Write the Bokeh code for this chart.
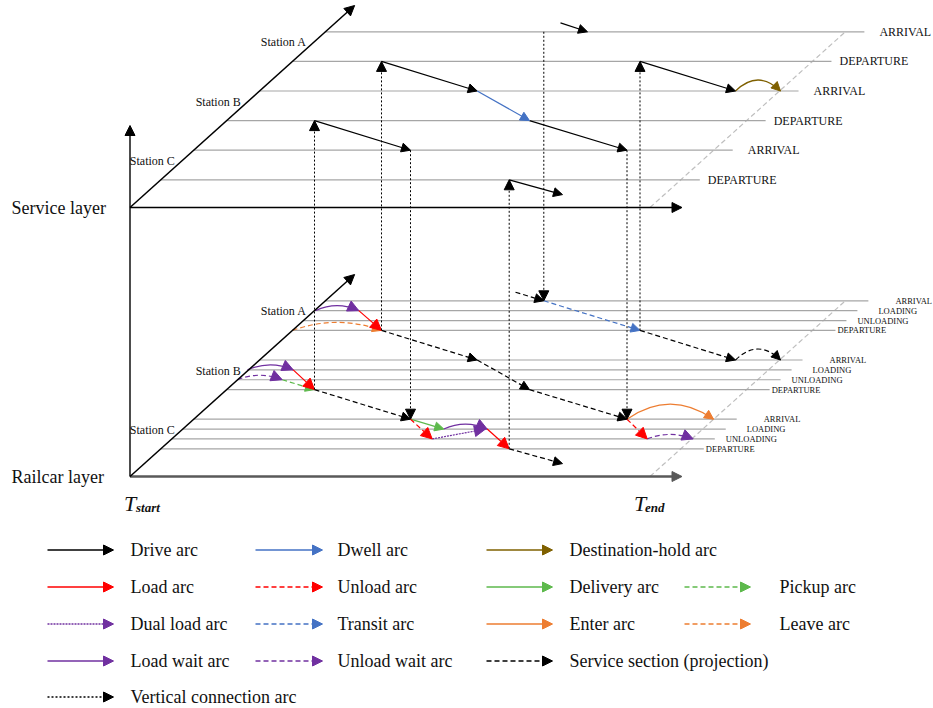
import numpy as np
from bokeh.plotting import figure
from bokeh.models import Range1d, Arrow, NormalHead, ColumnDataSource
from bokeh.embed import file_html
from bokeh.resources import INLINE
from bokeh.core.properties import value

# ----------------------------- data -----------------------------
STATIONS = ["Station A", "Station B", "Station C"]
STATION_INDEX = [2, 1, 0]                      # depth order (C nearest)
SERVICE_EVENTS = ["ARRIVAL", "DEPARTURE"]
SERVICE_EVENT_LEVEL = [1.0, 0.0]
RAILCAR_EVENTS = ["ARRIVAL", "LOADING", "UNLOADING", "DEPARTURE"]
RAILCAR_EVENT_LEVEL = [1.0, 2 / 3, 1 / 3, 0.0]
TIME_LABELS = ["start", "end"]

# service layer arcs (time, level) -> (time, level)
DRIVE_T0 = [381.0, 529.0, 314.0, 508.7, 560.0, 639.5]
DRIVE_L0 = [4.0, 2.0, 2.0, 0.0, 5.3, 4.0]
DRIVE_T1 = [476.7, 626.5, 410.0, 562.0, 587.0, 735.0]
DRIVE_L1 = [3.0, 1.0, 1.0, -0.5, 5.0, 3.0]
DWELL_T0, DWELL_L0, DWELL_T1, DWELL_L1 = [476.7], [3.0], [529.0], [2.0]
HOLD_T0, HOLD_T1, HOLD_L = [735.0], [780.0], [3.0]

# railcar layer arcs
LOAD_T0 = [358.3, 292.7, 486.7]
LOAD_L0 = [4 + 2 / 3, 2 + 2 / 3, 2 / 3]
LOAD_T1 = [381.0, 314.0, 508.7]
LOAD_L1 = [4.0, 2.0, 0.0]
UNLOAD_T0, UNLOAD_L0 = [410.0, 626.5], [1.0, 1.0]
UNLOAD_T1, UNLOAD_L1 = [431.7, 646.7], [1 / 3, 1 / 3]
PICKUP_T0, PICKUP_L0, PICKUP_T1, PICKUP_L1 = [281.7], [2 + 1 / 3], [314.0], [2.0]
DELIVERY_T0, DELIVERY_L0, DELIVERY_T1, DELIVERY_L1 = [410.0], [1.0], [443.3], [2 / 3]
DUAL_T0, DUAL_L0, DUAL_T1, DUAL_L1 = [431.7], [1 / 3], [485.0], [2 / 3]
TRANSIT_T0, TRANSIT_L0, TRANSIT_T1, TRANSIT_L1 = [543.3], [5.0], [639.5], [4.0]
SECTION_T0 = [381.0, 476.7, 529.0, 314.0, 508.7, 515.0, 639.5]
SECTION_L0 = [4.0, 3.0, 2.0, 2.0, 0.0, 5.29, 4.0]
SECTION_T1 = [476.7, 529.0, 626.5, 410.0, 562.0, 543.3, 735.0]
SECTION_L1 = [3.0, 2.0, 1.0, 1.0, -0.5, 5.0, 3.0]
SECTION_CURVE_T0, SECTION_CURVE_T1, SECTION_CURVE_L = [735.0], [780.0], [3.0]
LOADWAIT_T0 = [315.0, 247.0, 443.3]
LOADWAIT_T1 = [358.3, 292.7, 486.7]
LOADWAIT_L = [4 + 2 / 3, 2 + 2 / 3, 2 / 3]
UNLOADWAIT_T0, UNLOADWAIT_T1, UNLOADWAIT_L = [237.0, 646.7], [281.7, 692.7], [2 + 1 / 3, 1 / 3]
LEAVE_T0, LEAVE_T1, LEAVE_L = [292.0], [381.0], [4.0]
ENTER_T0, ENTER_T1, ENTER_L = [626.5], [713.0], [1.0]

# vertical connection arcs between the two layers
VERT_T = [314.0, 381.0, 410.0, 508.7, 543.3, 626.5, 639.5]
VERT_L = [2.0, 4.0, 1.0, 0.0, 5.0, 1.0, 4.0]
VERT_UP = [True, True, False, True, False, False, True]

# legend
LEGEND_ROWS = [
    [("Drive arc", "black", "solid"), ("Dwell arc", "blue", "solid"), ("Destination-hold arc", "brown", "solid"), None],
    [("Load arc", "red", "solid"), ("Unload arc", "red", "dashed"), ("Delivery arc", "green", "solid"), ("Pickup arc", "green", "dashed")],
    [("Dual load arc", "purple", "dotted"), ("Transit arc", "blue", "dashed"), ("Enter arc", "orange", "solid"), ("Leave arc", "orange", "dashed")],
    [("Load wait arc", "purple", "solid"), ("Unload wait arc", "purple", "dashed"), ("Service section (projection)", "black", "dashed"), None],
    [("Vertical connection arc", "black", "vdotted"), None, None, None],
]

# ----------------------------- style / geometry -----------------------------
COL = dict(black="#000000", blue="#4472C4", brown="#7F6000", red="#FF0000",
           green="#5DB94C", orange="#ED7D31", purple="#7030A0", grey="#A6A6A6")
DASH = dict(solid="solid", dashed="5 3", dotted="2 1", vdotted="2 2")
FONT = value("Liberation Serif")
T_START, T_END = 129.5, 649.5
SERVICE_BASE, RAILCAR_BASE = 207.0, 476.0
LEV0, LEVSTEP, K = 27.7, 29.6, 1.112

def h_of(lev):
    return LEV0 + LEVSTEP * np.asarray(lev, dtype=float)

def y_of(base, lev):
    return base - h_of(lev)

p = figure(width=933, height=708, x_range=Range1d(0, 933), y_range=Range1d(708, 0),
           output_backend="svg", toolbar_location=None, min_border=0)
p.axis.visible = False
p.grid.visible = False
p.outline_line_color = None
p.background_fill_color = "white"


def arrows(x0, y0, x1, y1, color, dash="solid", width=1.2, size=9, shaft=True):
    src = ColumnDataSource(dict(x0=list(np.atleast_1d(x0)), y0=list(np.atleast_1d(y0)),
                                x1=list(np.atleast_1d(x1)), y1=list(np.atleast_1d(y1))))
    head = NormalHead(size=size, fill_color=color, line_color=color, line_width=1)
    p.add_layout(Arrow(end=head, source=src, x_start="x0", y_start="y0", x_end="x1", y_end="y1",
                       line_color=color, line_width=width, line_dash=dash,
                       line_alpha=1.0 if shaft else 0.0))


def curves(t0, t1, lev, base, bulge, color, dash="solid", width=1.2, size=9):
    t0 = np.asarray(t0, float); t1 = np.asarray(t1, float)
    y = y_of(base, lev)
    cx = (t0 + t1) / 2
    cy = y - 2 * bulge
    p.quadratic(x0=t0, y0=y, x1=t1, y1=y, cx=cx, cy=cy, line_color=color,
                line_width=width, line_dash=dash)
    hx = t1 - (t1 - cx) * 0.08
    hy = y - (y - cy) * 0.08
    arrows(hx, hy, t1, y, color, size=size, shaft=False)


def straight(t0, l0, t1, l1, base, color, dash="solid", width=1.2, size=9):
    arrows(t0, y_of(base, l0), t1, y_of(base, l1), color, dash, width, size)


# --------------------- layer frames ---------------------
for base, axis_col, axis_w in [(SERVICE_BASE, COL["black"], 1.6), (RAILCAR_BASE, "#595959", 2.4)]:
    # time axis
    arrows(T_START, base, T_END + 32, base, axis_col, width=axis_w, size=10)
    # depth diagonal
    arrows(T_START, base, T_START + K * 202, base - 202, COL["black"], width=1.5, size=10)
    # grey dashed T_end diagonal
    p.line([T_END, T_END + K * 176], [base, base - 176], line_color="#BFBFBF", line_width=1.2, line_dash="5 3")

# vertical time axis line
arrows(T_START, RAILCAR_BASE, T_START, 125, COL["black"], width=1.4, size=10)

# service layer horizontal lines + labels
s_x0, s_x1, s_y, s_lab_x, s_lab_y, s_lab = [], [], [], [], [], []
for si in STATION_INDEX:
    for ev, el in zip(SERVICE_EVENTS, SERVICE_EVENT_LEVEL):
        lev = 2 * si + el
        h = h_of(lev)
        yy = SERVICE_BASE - h
        s_x0.append(T_START + K * h); s_x1.append(T_END + K * h + 19); s_y.append(yy)
        s_lab_x.append(T_END + K * h + 19 + (15 if ev == "ARRIVAL" else 8)); s_lab_y.append(yy); s_lab.append(ev)
p.segment(x0=s_x0, y0=s_y, x1=s_x1, y1=s_y, line_color=COL["grey"], line_width=1.2)
p.text(x=s_lab_x, y=s_lab_y, text=s_lab, text_font=FONT, text_font_size="12px",
       text_baseline="middle", text_color="#111111")

# railcar layer horizontal lines + labels
LAB_OFF = {"ARRIVAL": 27, "LOADING": 21, "UNLOADING": 11, "DEPARTURE": 2}
r_x0, r_x1, r_y, r_lab_x, r_lab_y, r_lab = [], [], [], [], [], []
for si in STATION_INDEX:
    for ev, el in zip(RAILCAR_EVENTS, RAILCAR_EVENT_LEVEL):
        lev = 2 * si + el
        h = h_of(lev)
        yy = RAILCAR_BASE - h
        r_x0.append(T_START + K * h); r_x1.append(T_END + K * h + 23); r_y.append(yy)
        r_lab_x.append(T_END + K * h + 23 + LAB_OFF[ev]); r_lab_y.append(yy); r_lab.append(ev)
p.segment(x0=r_x0, y0=r_y, x1=r_x1, y1=r_y, line_color=COL["grey"], line_width=1.2)
p.text(x=r_lab_x, y=r_lab_y, text=r_lab, text_font=FONT, text_font_size="8.5px",
       text_baseline="middle", text_color="#111111")

# station labels
for base in (SERVICE_BASE, RAILCAR_BASE):
    lx, ly, lt = [], [], []
    for name, si in zip(STATIONS, STATION_INDEX):
        h = h_of(2 * si + 0.64)
        lx.append(T_START + K * h - 7); ly.append(base - h); lt.append(name)
    p.text(x=lx, y=ly, text=lt, text_font=FONT, text_font_size="12px", text_align="right",
           text_baseline="middle", text_color="#111111")

# layer names
p.text(x=[11, 11], y=[SERVICE_BASE, RAILCAR_BASE], text=["Service layer", "Railcar layer"],
       text_font=FONT, text_font_size="18px", text_baseline="middle", text_color="#111111")

# T_start / T_end
p.text(x=[T_START - 6, T_END - 16], y=[503, 503], text=["T", "T"], text_font=FONT,
       text_font_size="22px", text_font_style="italic", text_baseline="alphabetic", text_color="#111111")
p.text(x=[T_START + 6, T_END - 5], y=[507, 507], text=TIME_LABELS, text_font=FONT,
       text_font_size="13px", text_font_style="bold italic", text_baseline="alphabetic", text_color="#111111")

# --------------------- service layer arcs ---------------------
straight(DRIVE_T0, DRIVE_L0, DRIVE_T1, DRIVE_L1, SERVICE_BASE, COL["black"])
straight(DWELL_T0, DWELL_L0, DWELL_T1, DWELL_L1, SERVICE_BASE, COL["blue"])
curves(HOLD_T0, HOLD_T1, HOLD_L, SERVICE_BASE, 11, COL["brown"])

# --------------------- railcar layer arcs ---------------------
straight(SECTION_T0, SECTION_L0, SECTION_T1, SECTION_L1, RAILCAR_BASE, COL["black"], DASH["dashed"])
curves(SECTION_CURVE_T0, SECTION_CURVE_T1, SECTION_CURVE_L, RAILCAR_BASE, 11, COL["black"], DASH["dashed"])
straight(TRANSIT_T0, TRANSIT_L0, TRANSIT_T1, TRANSIT_L1, RAILCAR_BASE, COL["blue"], DASH["dashed"])
curves(LEAVE_T0, LEAVE_T1, LEAVE_L, RAILCAR_BASE, 8, COL["orange"], DASH["dashed"])
curves(ENTER_T0, ENTER_T1, ENTER_L, RAILCAR_BASE, 15, COL["orange"])
straight(PICKUP_T0, PICKUP_L0, PICKUP_T1, PICKUP_L1, RAILCAR_BASE, COL["green"], DASH["dashed"])
straight(DELIVERY_T0, DELIVERY_L0, DELIVERY_T1, DELIVERY_L1, RAILCAR_BASE, COL["green"])
straight(DUAL_T0, DUAL_L0, DUAL_T1, DUAL_L1, RAILCAR_BASE, COL["purple"], DASH["dotted"], size=11)
curves(LOADWAIT_T0, LOADWAIT_T1, LOADWAIT_L, RAILCAR_BASE, 5, COL["purple"], size=11)
curves(UNLOADWAIT_T0, UNLOADWAIT_T1, UNLOADWAIT_L, RAILCAR_BASE, 4.5, COL["purple"], DASH["dashed"], size=11)
straight(LOAD_T0, LOAD_L0, LOAD_T1, LOAD_L1, RAILCAR_BASE, COL["red"], size=11)
straight(UNLOAD_T0, UNLOAD_L0, UNLOAD_T1, UNLOAD_L1, RAILCAR_BASE, COL["red"], DASH["dashed"], size=11)

# --------------------- vertical connection arcs ---------------------
vx0, vy0, vy1 = [], [], []
for t, lev, up in zip(VERT_T, VERT_L, VERT_UP):
    ys, yr = float(y_of(SERVICE_BASE, lev)), float(y_of(RAILCAR_BASE, lev))
    vx0.append(t)
    vy0.append(yr if up else ys)
    vy1.append(ys if up else yr)
arrows(vx0, vy0, vx0, vy1, COL["black"], DASH["vdotted"], width=1.0, size=10)

# --------------------- legend ---------------------
ROW_Y = [549.5, 586.5, 623.5, 660.5, 696.5]
COL_X = [(47, 113, 130), (255, 322, 337), (486, 552, 569), (684, 750, 779)]
lt_x, lt_y, lt_t = [], [], []
for ry, row in zip(ROW_Y, LEGEND_ROWS):
    for (ax0, ax1, tx), item in zip(COL_X, row):
        if item is None:
            continue
        label, cname, dname = item
        arrows(ax0, ry, ax1, ry, COL[cname], DASH[dname], width=1.4, size=10)
        lt_x.append(tx); lt_y.append(ry); lt_t.append(label)
p.text(x=lt_x, y=lt_y, text=lt_t, text_font=FONT, text_font_size="18px",
       text_baseline="middle", text_color="#111111")

open("out.html", "w").write(file_html(p, INLINE))
